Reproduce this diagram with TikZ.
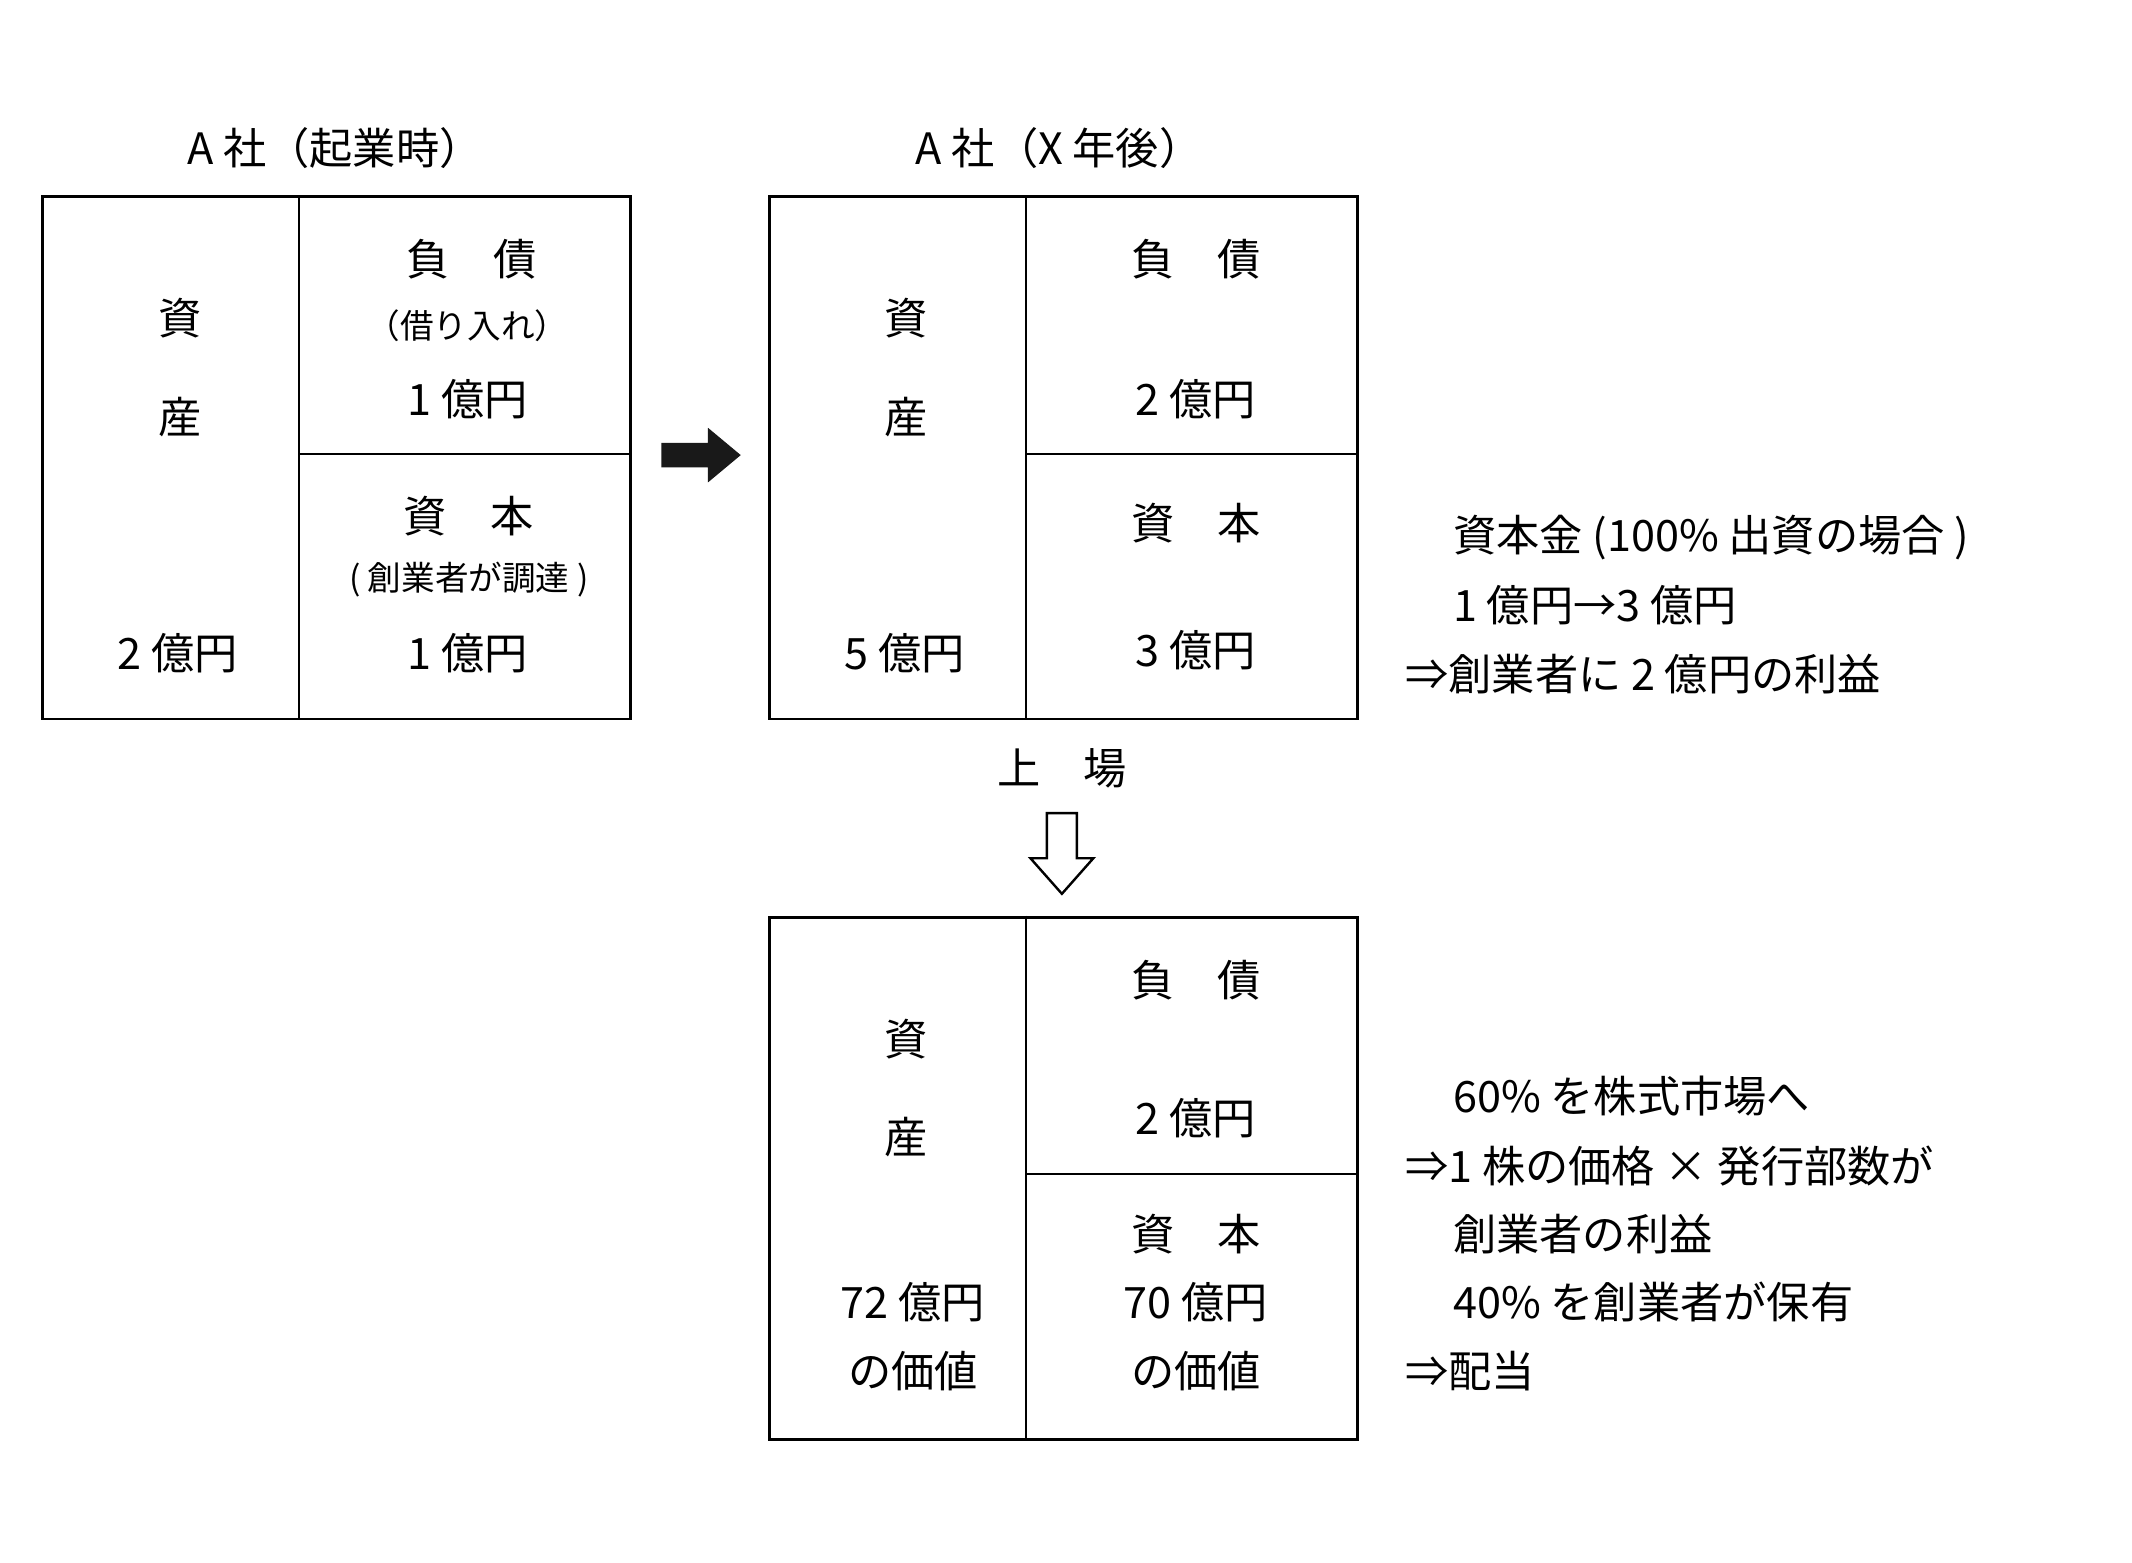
\documentclass[tikz,border=0pt]{standalone}
\usepackage{fontspec}
\setmainfont{Noto Sans CJK JP}
\begin{document}
\begin{tikzpicture}[x=0.02cm,y=-0.02cm,
  t/.style={inner sep=0pt,font=\fontsize{18}{20}\selectfont},
  s/.style={inner sep=0pt,font=\fontsize{14}{16}\selectfont},
  r/.style={t,anchor=west},
  bx/.style={draw,line width=1.2pt},
  ln/.style={line width=0.8pt}]
\useasboundingbox[fill=white] (0,0) rectangle (1560,1143);
% box 1
\node[bx,minimum width=430*0.02cm,minimum height=382*0.02cm,inner sep=0pt,anchor=north west] (b1) at (30,143) {};
\draw[ln] (219,143) -- (219,525); \draw[ln] (219,332) -- (460,332);
\node[t] (t1) at (245,108) {A 社（起業時）};
\node[t] (a1) at (132,233) {資};
\node[t] (a2) at (132,305) {産};
\node[t] (a3) at (130,478) {2 億円};
\node[t] (a4) at (345,190) {負　債};
\node[s] (a5) at (342,238) {（借り入れ）};
\node[t] (a6) at (342,292) {1 億円};
\node[t] (a7) at (343,378) {資　本};
\node[s] (a8) at (343,424) {( 創業者が調達 )};
\node[t] (a9) at (342,478) {1 億円};
% arrow
\fill[black!90] (484,324) -- (518,324) -- (518,313) -- (542,333) -- (518,353) -- (518,342) -- (484,342) -- cycle;
% box 2
\node[bx,minimum width=430*0.02cm,minimum height=382*0.02cm,inner sep=0pt,anchor=north west] (b2) at (562,143) {};
\draw[ln] (751,143) -- (751,525); \draw[ln] (751,332) -- (992,332);
\node[t] (t2) at (775,108) {A 社（X 年後）};
\node[t] (c1) at (663,233) {資};
\node[t] (c2) at (663,305) {産};
\node[t] (c3) at (662,478) {5 億円};
\node[t] (c4) at (875,190) {負　債};
\node[t] (c6) at (875,292) {2 億円};
\node[t] (c7) at (875,383) {資　本};
\node[t] (c9) at (875,476) {3 億円};
\node[t] (up) at (777,562) {上　場};
\draw[line width=1pt,line join=miter] (766,595) -- (788,595) -- (788,628) -- (800,628) -- (777,654) -- (754,628) -- (766,628) -- cycle;
% box 3
\node[bx,minimum width=430*0.02cm,minimum height=382*0.02cm,inner sep=0pt,anchor=north west] (b3) at (562,670) {};
\draw[ln] (751,670) -- (751,1052); \draw[ln] (751,859) -- (992,859);
\node[t] (d1) at (663,760) {資};
\node[t] (d2) at (663,832) {産};
\node[t] (d3) at (668,953) {72 億円};
\node[t] (d3b) at (668,1003) {の価値};
\node[t] (d4) at (875,717) {負　債};
\node[t] (d6) at (875,818) {2 億円};
\node[t] (d7) at (875,903) {資　本};
\node[t] (d8) at (875,953) {70 億円};
\node[t] (d9) at (875,1003) {の価値};
% right texts
\node[r] (r1) at (1063,393) {資本金 (100\% 出資の場合 )};
\node[r] (r2) at (1063,443) {1 億円→3 億円};
\node[r] (r3) at (1028,493) {⇒創業者に 2 億円の利益};
\node[r] (r4) at (1063,802) {60\% を株式市場へ};
\node[r] (r5) at (1028,853) {⇒1 株の価格 × 発行部数が};
\node[r] (r6) at (1063,903) {創業者の利益};
\node[r] (r7) at (1063,953) {40\% を創業者が保有};
\node[r] (r8) at (1028,1003) {⇒配当};
\end{tikzpicture}
\end{document}
